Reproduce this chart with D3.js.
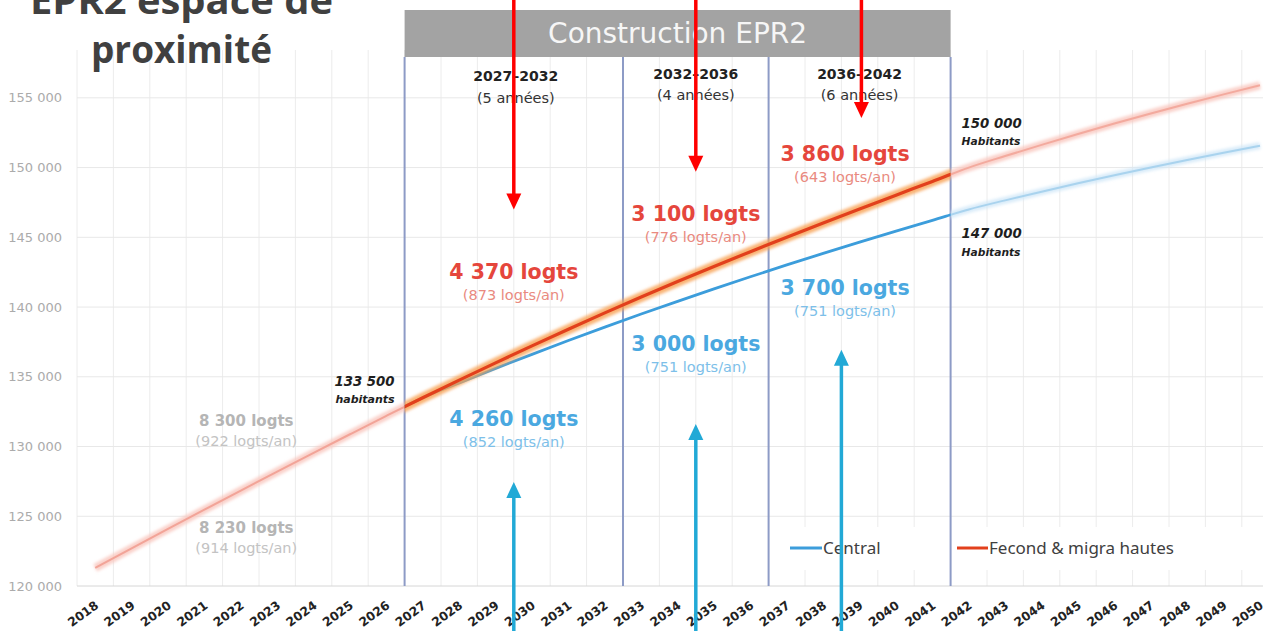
<!DOCTYPE html>
<html>
<head>
<meta charset="utf-8">
<script src="https://cdn.jsdelivr.net/npm/d3@7"></script>
<style>
  html, body { margin: 0; padding: 0; background: #fff; overflow: hidden; }
  svg { display: block; }
</style>
</head>
<body>
<svg id="chart" width="1263" height="631"></svg>
<script>
// ---- Data -------------------------------------------------------------
const years = [2018, 2019, 2020, 2021, 2022, 2023, 2024, 2025, 2026, 2027, 2028,
  2029, 2030, 2031, 2032, 2033, 2034, 2035, 2036, 2037, 2038, 2039, 2040, 2041,
  2042, 2043, 2044, 2045, 2046, 2047, 2048, 2049, 2050];

// Population, scénario "Fecond & migra hautes"
const hautes = [121300, 122700, 124090, 125470, 126840, 128200, 129550, 130880,
  132200, 133500, 134760, 136000, 137220, 138410, 139580, 140720, 141830, 142910,
  143970, 145010, 146030, 147030, 148020, 149010, 150000, 150830, 151630, 152410,
  153160, 153880, 154580, 155250, 155900];

// Population, scénario "Central"
const central = [121300, 122700, 124090, 125470, 126840, 128200, 129550, 130880,
  132200, 133500, 134560, 135600, 136610, 137600, 138560, 139500, 140410, 141300,
  142170, 143020, 143850, 144660, 145450, 146220, 147000, 147650, 148270, 148870,
  149450, 150010, 150550, 151070, 151570];

const yTicks = [120000, 125000, 130000, 135000, 140000, 145000, 150000, 155000];

// Construction phases (first year of each phase, and end of the last one)
const phaseBounds = [2027, 2033, 2037, 2042];
const phaseLabels = ["2027\u20132032", "2032\u20132036", "2036\u20132042"];
const phaseYears = ["(5 ann\u00e9es)", "(4 ann\u00e9es)", "(6 ann\u00e9es)"];

const hautesLogts = ["4 370 logts", "3 100 logts", "3 860 logts"];
const hautesRates = ["(873 logts/an)", "(776 logts/an)", "(643 logts/an)"];
const centralLogts = ["4 260 logts", "3 000 logts", "3 700 logts"];
const centralRates = ["(852 logts/an)", "(751 logts/an)", "(751 logts/an)"];
const pastLogts = ["8 300 logts", "8 230 logts"];
const pastRates = ["(922 logts/an)", "(914 logts/an)"];

// Arrows: position on the year axis and value reached by the tip
const arrowsDown = [[2030, 147000], [2035, 149700], [2039.55, 153550]];
const arrowsUp = [[2030, 127460], [2035, 131620], [2039, 136930]];

const seriesNames = ["Central", "Fecond & migra hautes"];

// ---- Scales -----------------------------------------------------------
const W = 1263, H = 631;
const svg = d3.select("#chart");
const x = d3.scaleBand().domain(years).range([77, 77 + years.length * 36.4]);
const xf = t => x.range()[0] + (t - years[0]) * x.step();   // fractional year -> px
const cx = yr => x(yr) + x.bandwidth() / 2;
const y = d3.scaleLinear().domain([120000, 158000]).range([586, 56]);
const fmt = d3.formatLocale({ decimal: ",", thousands: "\u00a0", grouping: [3], currency: ["", "\u20ac"] }).format(",d");

const FONT = "'DejaVu Sans', Verdana, sans-serif";

const defs = svg.append("defs");
defs.append("filter").attr("id", "soft").attr("x", "-5%").attr("y", "-5%")
  .attr("width", "110%").attr("height", "110%")
  .append("feGaussianBlur").attr("stdDeviation", 1.8);
const clips = {
  pre: [0, xf(phaseBounds[0])],
  mid: [xf(phaseBounds[0]), xf(phaseBounds[3])],
  post: [xf(phaseBounds[3]), W]
};
Object.entries(clips).forEach(([k, [a, b]]) => {
  defs.append("clipPath").attr("id", "clip-" + k)
    .append("rect").attr("x", a).attr("y", 0).attr("width", b - a).attr("height", H);
});

// ---- Grid -------------------------------------------------------------
const grid = svg.append("g");
grid.selectAll("line.v").data(years.concat([2051])).join("line")
  .attr("x1", d => xf(d)).attr("x2", d => xf(d))
  .attr("y1", 50).attr("y2", y(120000))
  .attr("stroke", "#ececec").attr("stroke-width", 1);
grid.selectAll("line.h").data(yTicks).join("line")
  .attr("x1", x.range()[0]).attr("x2", W)
  .attr("y1", d => y(d)).attr("y2", d => y(d))
  .attr("stroke", d => d === 120000 ? "#d6d6d6" : "#e8e8e8").attr("stroke-width", 1);

// y axis labels
svg.append("g").selectAll("text").data(yTicks).join("text")
  .attr("x", 62).attr("y", d => y(d) + 4.5)
  .attr("text-anchor", "end")
  .attr("font-family", FONT).attr("font-size", 13).attr("fill", "#ababab")
  .text(d => fmt(d));

// x axis labels
svg.append("g").selectAll("text").data(years).join("text")
  .attr("transform", d => `translate(${cx(d) - 1},${600}) rotate(-36)`)
  .attr("text-anchor", "end").attr("dy", "0.72em")
  .attr("font-family", FONT).attr("font-size", 12.3).attr("font-weight", "bold")
  .attr("fill", "#222")
  .text(d => d);

// legend background (covers the grid)
svg.append("rect").attr("x", 776).attr("y", 527).attr("width", 468).attr("height", 43)
  .attr("fill", "#fff");

// ---- Construction phases ---------------------------------------------
svg.append("rect")
  .attr("x", xf(phaseBounds[0])).attr("y", 10)
  .attr("width", xf(phaseBounds[3]) - xf(phaseBounds[0])).attr("height", 47)
  .attr("fill", "#a3a3a3");
svg.append("text")
  .attr("x", (xf(phaseBounds[0]) + xf(phaseBounds[3])) / 2).attr("y", 43)
  .attr("text-anchor", "middle").attr("font-family", FONT).attr("font-size", 28)
  .attr("fill", "#f6f6f6").text("Construction EPR2");

svg.append("g").selectAll("line").data(phaseBounds).join("line")
  .attr("x1", d => xf(d)).attr("x2", d => xf(d))
  .attr("y1", 57).attr("y2", y(120000))
  .attr("stroke", "#8d9bc6").attr("stroke-width", 2);

const phaseCenters = [2030, 2035, 2039.5];
const phaseG = svg.append("g").attr("font-family", FONT).attr("text-anchor", "middle").attr("fill", "#222");
phaseLabels.forEach((t, i) => {
  phaseG.append("text").attr("x", xf(phaseCenters[i]) + (i === 0 ? 2 : 0)).attr("y", i === 0 ? 81 : 79)
    .attr("font-size", 14).attr("font-weight", "bold").text(t);
  phaseG.append("text").attr("x", xf(phaseCenters[i]) + (i === 0 ? 2 : 0)).attr("y", i === 0 ? 103 : 100)
    .attr("font-size", 14.5).attr("fill", "#333").text(phaseYears[i]);
});

// ---- Series -----------------------------------------------------------
const line = d3.line().x(d => cx(d[0])).y(d => y(d[1])).curve(d3.curveMonotoneX);
const hautesPts = years.map((yr, i) => [yr, hautes[i]]);
const centralPts = years.map((yr, i) => [yr, central[i]]);

function drawPart(pts, clip, halo, core) {
  const g = svg.append("g").attr("clip-path", `url(#clip-${clip})`);
  if (halo) {
    g.append("path").attr("d", line(pts)).attr("fill", "none")
      .attr("stroke", halo.color).attr("stroke-width", halo.width)
      .attr("stroke-opacity", halo.opacity).attr("filter", "url(#soft)");
  }
  g.append("path").attr("d", line(pts)).attr("fill", "none")
    .attr("stroke", core.color).attr("stroke-width", core.width)
    .attr("stroke-linejoin", "round");
}

// outside the construction window: faded
drawPart(centralPts, "post", { color: "#cfe7f7", width: 7, opacity: 0.8 }, { color: "#a9d3ee", width: 2 });
drawPart(hautesPts, "pre", { color: "#f9c6bd", width: 8, opacity: 0.8 }, { color: "#f2a498", width: 2 });
drawPart(hautesPts, "post", { color: "#f9c6bd", width: 8, opacity: 0.8 }, { color: "#f3aa9e", width: 2 });
// construction window: emphasised
drawPart(centralPts, "mid", null, { color: "#3c9ddb", width: 2.8 });
drawPart(hautesPts, "mid", { color: "#f7a052", width: 10, opacity: 0.8 }, { color: "#e2401c", width: 3.2 });

// ---- Legend -----------------------------------------------------------
const legend = svg.append("g").attr("font-family", "'Noto Sans', sans-serif").attr("font-size", 17).attr("fill", "#404040");
[[790, 822, "#3c9ddb"], [957, 988, "#e2401c"]].forEach(([a, b, c], i) => {
  legend.append("line").attr("x1", a).attr("x2", b).attr("y1", 548).attr("y2", 548)
    .attr("stroke", c).attr("stroke-width", 3);
  legend.append("text").attr("x", b + 1).attr("y", 554).text(seriesNames[i]);
});

// ---- Annotations ------------------------------------------------------
const ann = svg.append("g").attr("font-family", FONT).attr("text-anchor", "middle");
function pair(xc, yb, big, small, cBig, cSmall, sizeBig, sizeSmall, gap) {
  ann.append("text").attr("x", xc).attr("y", yb).attr("font-size", sizeBig)
    .attr("font-weight", "bold").attr("fill", cBig).text(big);
  ann.append("text").attr("x", xc).attr("y", yb + gap).attr("font-size", sizeSmall)
    .attr("fill", cSmall).text(small);
}
const redPos = [[2030, 279], [2035, 221], [2039.1, 161]];
const bluePos = [[2030, 426], [2035, 351], [2039.1, 295]];
redPos.forEach(([t, yb], i) => pair(xf(t), yb, hautesLogts[i], hautesRates[i], "#e5463c", "#e98a80", 20.5, 14.5, 21));
bluePos.forEach(([t, yb], i) => pair(xf(t), yb, centralLogts[i], centralRates[i], "#4aa8e0", "#7dbfe9", 20.5, 14.5, 21));
const pastPos = [[2022.65, 426], [2022.65, 533]];
pastPos.forEach(([t, yb], i) => pair(xf(t), yb, pastLogts[i], pastRates[i], "#b5b5b5", "#c3c3c3", 15, 14.5, 20));

// population call-outs
const pop = svg.append("g").attr("font-family", FONT).attr("font-weight", "bold")
  .attr("font-style", "italic").attr("fill", "#1e1e1e");
pop.append("text").attr("x", xf(phaseBounds[0]) - 10).attr("y", 386).attr("text-anchor", "end")
  .attr("font-size", 13.3).text(fmt(hautes[years.indexOf(2027)]));
pop.append("text").attr("x", xf(phaseBounds[0]) - 10).attr("y", 403).attr("text-anchor", "end")
  .attr("font-size", 11).text("habitants");
pop.append("text").attr("x", xf(phaseBounds[3]) + 11).attr("y", 128)
  .attr("font-size", 13.3).text(fmt(hautes[years.indexOf(2042)]));
pop.append("text").attr("x", xf(phaseBounds[3]) + 11).attr("y", 145)
  .attr("font-size", 10.7).text("Habitants");
pop.append("text").attr("x", xf(phaseBounds[3]) + 11).attr("y", 238)
  .attr("font-size", 13.3).text(fmt(central[years.indexOf(2042)]));
pop.append("text").attr("x", xf(phaseBounds[3]) + 11).attr("y", 256)
  .attr("font-size", 10.7).text("Habitants");

// ---- Title ------------------------------------------------------------
const title = svg.append("g").attr("font-family", "'Open Sans', sans-serif").attr("font-weight", 700)
  .attr("fill", "#404040").attr("text-anchor", "middle");
title.append("text").attr("x", 181.5).attr("y", 14).attr("font-size", 38)
  .attr("textLength", 303).attr("lengthAdjust", "spacingAndGlyphs").text("EPR2 espace de");
title.append("text").attr("x", 181.5).attr("y", 63).attr("font-size", 38)
  .attr("textLength", 181).attr("lengthAdjust", "spacingAndGlyphs").text("proximit\u00e9");

// ---- Arrows -----------------------------------------------------------
function arrow(xp, tipY, dir, color) {
  // dir = +1 pointing down (from the top edge), -1 pointing up (from the bottom edge)
  const head = 16, half = 7.5;
  const start = dir > 0 ? -5 : H + 5;
  const g = svg.append("g");
  g.append("line").attr("x1", xp).attr("x2", xp)
    .attr("y1", start).attr("y2", tipY - dir * (head - 2))
    .attr("stroke", color).attr("stroke-width", 3.5);
  g.append("path")
    .attr("d", `M${xp - half},${tipY - dir * head} L${xp + half},${tipY - dir * head} L${xp},${tipY} Z`)
    .attr("fill", color);
}
arrowsDown.forEach(([t, v]) => arrow(xf(t), y(v), 1, "#ff0000"));
arrowsUp.forEach(([t, v]) => arrow(xf(t), y(v), -1, "#22a9d6"));
</script>
</body>
</html>
